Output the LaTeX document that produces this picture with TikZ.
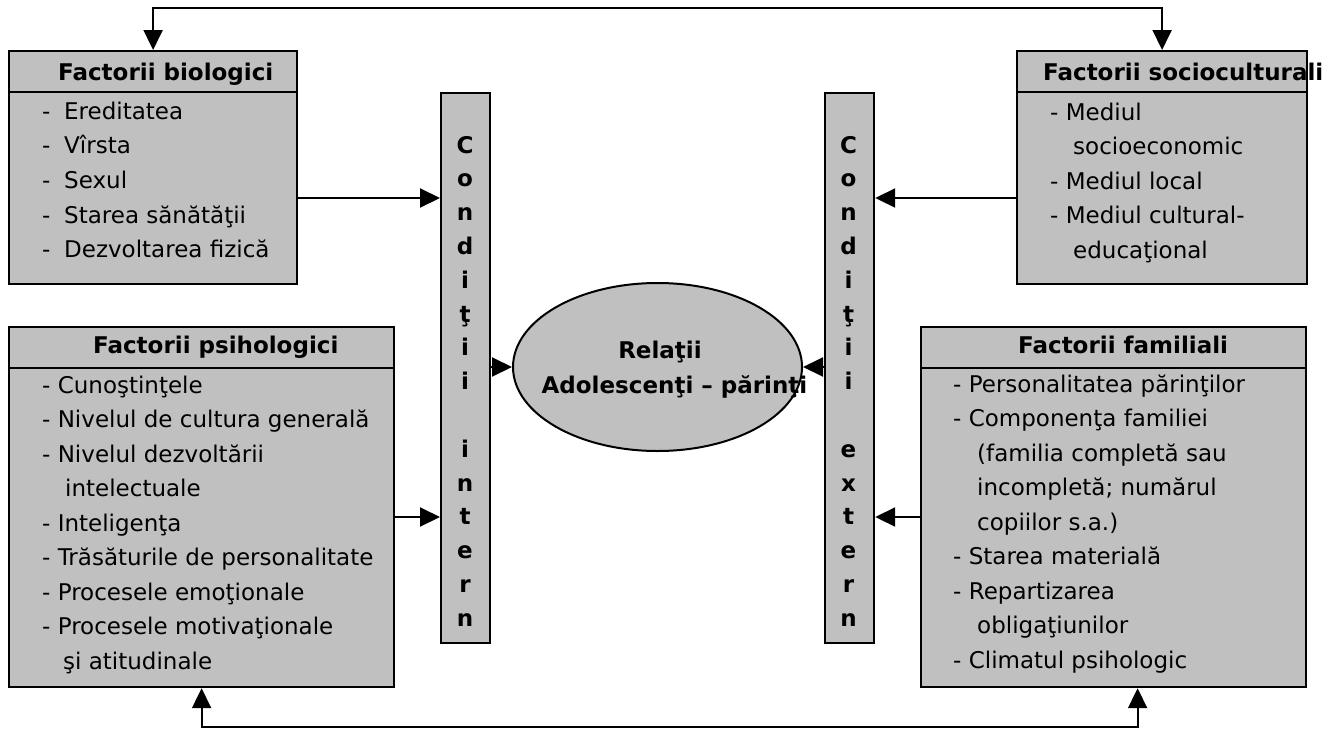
\documentclass[tikz,border=0pt]{standalone}
\usepackage{fontspec}
\setmainfont{DejaVu Sans}
\usetikzlibrary{arrows.meta,shapes.geometric,positioning}
\definecolor{boxgray}{RGB}{192,192,192}
\newcommand{\txtsize}{\fontsize{23}{34}\selectfont}
\begin{document}
\begin{tikzpicture}[
  x=1pt, y=-1pt,
  box/.style={rectangle, draw, line width=2.2pt, fill=boxgray, inner sep=0pt, anchor=north west},
  head/.style={anchor=base west, inner sep=0pt, font=\txtsize\bfseries},
  item/.style={anchor=base west, inner sep=0pt, font=\txtsize},
  letter/.style={anchor=base, inner sep=0pt, font=\txtsize\bfseries},
  link/.style={line width=2pt},
  >={Triangle[length=20pt,width=19pt]}
]
\useasboundingbox (0,0) rectangle (1332,728);

% boxes
\node[box, minimum width=288pt, minimum height=233pt] (bio) at (8,50) {};
\node[box, minimum width=290pt, minimum height=233pt] (socio) at (1016,50) {};
\node[box, minimum width=385pt, minimum height=360pt] (psi) at (8,326) {};
\node[box, minimum width=385pt, minimum height=360pt] (fam) at (920,326) {};
\node[box, minimum width=49pt, minimum height=550pt] (cint) at (440,92) {};
\node[box, minimum width=49pt, minimum height=550pt] (cext) at (824,92) {};
\node[ellipse, draw, line width=2pt, fill=boxgray, inner sep=0pt,
      minimum width=289pt, minimum height=168pt] (rel) at (657.5,367) {};

% header lines
\draw[line width=2.2pt] ([yshift=-42pt]bio.north west) -- ([yshift=-42pt]bio.north east);
\draw[line width=2.2pt] ([yshift=-42pt]socio.north west) -- ([yshift=-42pt]socio.north east);
\draw[line width=2.2pt] ([yshift=-42pt]psi.north west) -- ([yshift=-42pt]psi.north east);
\draw[line width=2.2pt] ([yshift=-42pt]fam.north west) -- ([yshift=-42pt]fam.north east);

% titles
\node[head] (bio_t) at (58,80) {Factorii biologici};
\node[head] (socio_t) at (1043,80) {Factorii socioculturali};
\node[head] (psi_t) at (93,353) {Factorii psihologici};
\node[head] (fam_t) at (1018,353) {Factorii familiali};

% lists
\foreach \t [count=\i from 0] in {Ereditatea, Vîrsta, Sexul, Starea sănătăţii, Dezvoltarea fizică}
  \node[item] (bio_\i) at (42, 119+34.7*\i) {-\hspace{13.7pt}\t};
\foreach \dx/\t [count=\i from 0] in {0/- Mediul, 23/socioeconomic, 0/- Mediul local,
    0/- Mediul cultural-, 23/educaţional}
  \node[item] (socio_\i) at (1050+\dx, 120+34.5*\i) {\t};
\foreach \dx/\t [count=\i from 0] in {0/- Cunoştinţele, 0/- Nivelul de cultura generală,
    0/- Nivelul dezvoltării, 23/intelectuale, 0/- Inteligenţa, 0/- Trăsăturile de personalitate,
    0/- Procesele emoţionale, 0/- Procesele motivaţionale, 21/şi atitudinale}
  \node[item] (psi_\i) at (42+\dx, 393+34.5*\i) {\t};
\foreach \dx/\t [count=\i from 0] in {0/- Personalitatea părinţilor, 0/- Componenţa familiei,
    24/(familia completă sau, 24/incompletă; numărul, 24/copiilor s.a.), 0/- Starea materială,
    0/- Repartizarea, 24/obligaţiunilor, 0/- Climatul psihologic}
  \node[item] (fam_\i) at (953+\dx, 392+34.5*\i) {\t};

% vertical words
\foreach \k/\c in {0/C,1/o,2/n,3/d,4/i,5/ţ,6/i,7/i,9/i,10/n,11/t,12/e,13/r,14/n}
  \node[letter] (cint_\k) at (465, 153+33.8*\k) {\c};
\foreach \k/\c in {0/C,1/o,2/n,3/d,4/i,5/ţ,6/i,7/i,9/e,10/x,11/t,12/e,13/r,14/n}
  \node[letter] (cext_\k) at (848.5, 153+33.8*\k) {\c};

% centre
\node[letter] (rel_1) at (660,358) {Relaţii};
\node[letter] (rel_2) at (674.5,393) {Adolescenţi – părinţi};

% connectors
\coordinate (top) at (0,8);
\coordinate (bottom) at (0,726.5);
\coordinate (row_a) at (0,198);
\coordinate (row_b) at (0,517);
\coordinate[xshift=24pt] (fam_in) at (fam.south);

\draw[link,<->] (bio.north) -- (bio.north |- top) -- (socio.north |- top) -- (socio.north);
\draw[link,<->] (psi.south) -- (psi.south |- bottom) -- (fam_in |- bottom) -- (fam_in);
\draw[link,->] (bio.east |- row_a) -- (cint.west |- row_a);
\draw[link,->] (socio.west |- row_a) -- (cext.east |- row_a);
\draw[link,->] (psi.east |- row_b) -- (cint.west |- row_b);
\draw[link,->] (fam.west |- row_b) -- (cext.east |- row_b);
\draw[link,->] (cint.east |- rel) -- (rel.west);
\draw[link,->] (cext.west |- rel) -- (rel.east);
\end{tikzpicture}
\end{document}
